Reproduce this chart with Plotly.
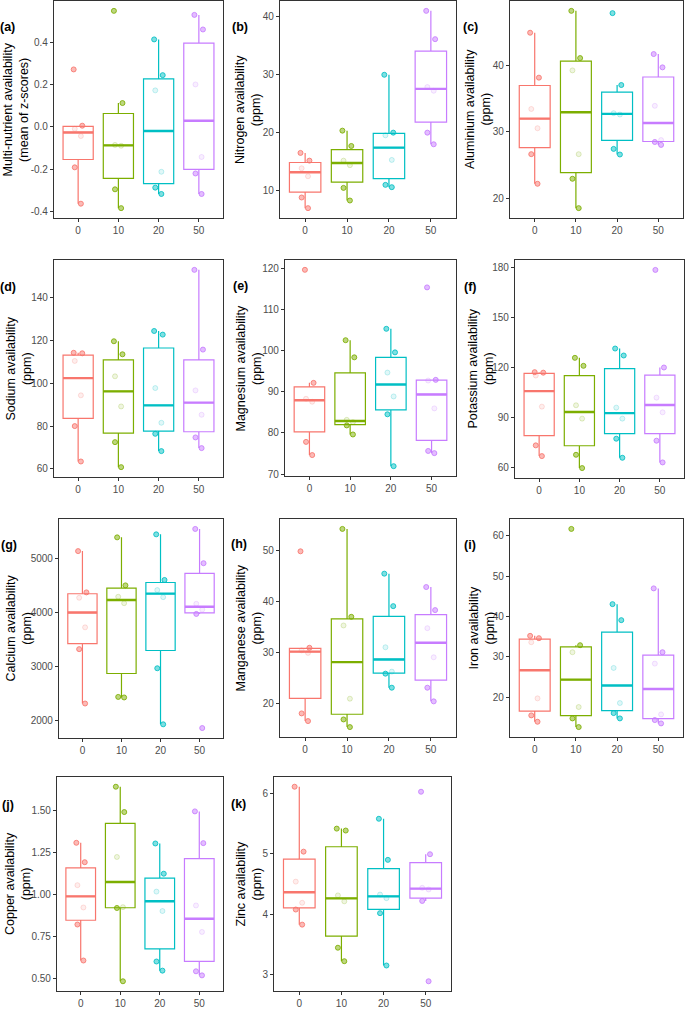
import numpy as np
import plotly.graph_objects as go

# ---------------- data ----------------
doses = ["0", "10", "20", "50"]
colors = ["#F8766D", "#7CAE00", "#00BFC4", "#C77CFF"]

multi_nutrient = [
    [0.271, 0.005, -0.010, -0.044, -0.192, -0.364],
    [0.548, 0.112, -0.086, -0.090, -0.296, -0.385],
    [0.413, 0.244, 0.172, -0.213, -0.288, -0.318],
    [0.529, 0.460, 0.200, -0.143, -0.221, -0.318],
]
nitrogen = [
    [16.44, 15.11, 13.79, 12.41, 8.74, 6.90],
    [20.29, 17.64, 15.10, 14.32, 10.40, 8.22],
    [29.94, 19.94, 19.48, 15.23, 10.92, 10.52],
    [40.98, 36.09, 27.82, 27.18, 19.94, 17.93],
]
aluminium = [
    [44.83, 38.11, 33.43, 30.55, 26.67, 22.24],
    [48.10, 41.04, 39.20, 26.67, 22.99, 18.60],
    [47.76, 37.01, 32.80, 32.60, 27.46, 26.62],
    [41.64, 39.65, 33.90, 28.78, 28.49, 28.06],
]
sodium = [
    [114.3, 114.06, 110.5, 94.4, 80.0, 63.44],
    [119.7, 113.6, 103.3, 89.2, 72.5, 60.8],
    [124.5, 122.8, 97.8, 81.56, 76.4, 68.3],
    [153.1, 115.8, 96.7, 85.3, 74.7, 69.7],
]
magnesium = [
    [119.6, 92.14, 88.28, 87.55, 77.8, 74.6],
    [102.5, 98.34, 83.16, 82.6, 81.8, 79.6],
    [105.27, 99.55, 94.64, 88.84, 84.5, 71.9],
    [115.33, 92.87, 92.7, 85.94, 75.6, 75.07],
]
potassium = [
    [117.0, 116.7, 114.98, 96.3, 73.04, 66.6],
    [125.6, 120.8, 97.12, 89.1, 67.4, 59.4],
    [131.2, 127.0, 95.7, 89.1, 77.05, 65.6],
    [178.4, 119.8, 101.7, 92.9, 75.85, 62.8],
]
calcium = [
    [5143, 4378, 4278, 3730, 3326, 2318],
    [5398, 4508, 4297, 4178, 2440, 2430],
    [5454, 4608, 4421, 4290, 2971, 1932],
    [5554, 4919, 4166, 4060, 3979, 1863],
]
manganese = [
    [49.8, 30.9, 30.4, 29.9, 18.04, 16.54],
    [54.19, 36.97, 35.27, 20.92, 16.86, 15.36],
    [45.42, 39.06, 31.0, 26.23, 25.83, 23.08],
    [42.8, 38.28, 34.74, 29.04, 23.08, 20.4],
]
iron = [
    [35.24, 34.66, 33.66, 19.75, 15.53, 13.95],
    [61.74, 32.92, 31.18, 17.6, 14.78, 12.63],
    [43.1, 39.13, 27.29, 18.59, 16.1, 14.78],
    [47.0, 31.18, 28.36, 15.78, 14.37, 13.54],
]
copper = [
    [1.306, 1.191, 1.055, 0.923, 0.822, 0.609],
    [1.638, 1.488, 1.222, 0.925, 0.920, 0.486],
    [1.302, 1.123, 1.017, 0.902, 0.603, 0.549],
    [1.492, 1.304, 0.935, 0.778, 0.545, 0.521],
]
zinc = [
    [6.11, 5.036, 4.54, 4.19, 4.078, 3.828],
    [5.417, 5.385, 4.312, 4.214, 3.446, 3.223],
    [5.58, 4.9, 4.326, 4.266, 4.018, 3.152],
    [6.027, 4.993, 4.437, 4.41, 4.22, 2.891],
]

tags = ["(a)", "(b)", "(c)", "(d)", "(e)", "(f)", "(g)", "(h)", "(i)", "(j)", "(k)"]
ytitles = [
    "Multi-nutrient availability<br>(mean of z-scores)",
    "Nitrogen availability<br>(ppm)",
    "Aluminium availability<br>(ppm)",
    "Sodium availability<br>(ppm)",
    "Magnesium availability<br>(ppm)",
    "Potassium availability<br>(ppm)",
    "Calcium availability<br>(ppm)",
    "Manganese availability<br>(ppm)",
    "Iron availability<br>(ppm)",
    "Copper availability<br>(ppm)",
    "Zinc availability<br>(ppm)",
]
datasets = [multi_nutrient, nitrogen, aluminium, sodium, magnesium, potassium,
            calcium, manganese, iron, copper, zinc]
ytickvals = [
    [-0.4, -0.2, 0.0, 0.2, 0.4],
    [10, 20, 30, 40],
    [20, 30, 40],
    [60, 80, 100, 120, 140],
    [70, 80, 90, 100, 110, 120],
    [60, 90, 120, 150, 180],
    [2000, 3000, 4000, 5000],
    [20, 30, 40, 50],
    [20, 30, 40, 50, 60],
    [0.5, 0.75, 1.0, 1.25, 1.5],
    [3, 4, 5, 6],
]
yticktext = [
    ["-0.4", "-0.2", "0.0", "0.2", "0.4"],
    ["10", "20", "30", "40"],
    ["20", "30", "40"],
    ["60", "80", "100", "120", "140"],
    ["70", "80", "90", "100", "110", "120"],
    ["60", "90", "120", "150", "180"],
    ["2000", "3000", "4000", "5000"],
    ["20", "30", "40", "50"],
    ["20", "30", "40", "50", "60"],
    ["0.50", "0.75", "1.00", "1.25", "1.50"],
    ["3", "4", "5", "6"],
]

# ---------------- layout geometry (pixels) ----------------
W, H = 685, 1010
panel_rects = [  # left, right, top, bottom
    (54, 223, 1, 218), (280, 456, 1, 218), (510, 683, 1, 218),
    (54, 223, 260, 477), (285, 456, 260, 476), (515, 684, 260, 478),
    (59, 223, 519, 738), (280, 456, 519, 737), (510, 683, 519, 737),
    (57, 223, 777, 991), (274, 451, 777, 991),
]
ytitle_x = [16, 248.5, 478.5, 18, 248.5, 480.5, 18, 248.5, 481.5, 18, 248.5]
tag_pos = [(8, 27), (240, 27), (470, 27), (8, 287), (240, 286), (470, 287),
           (9, 545), (239, 544), (470, 545), (8, 805), (239, 804)]

FONT = "Liberation Sans, Arial, sans-serif"


def rgba(hexc, a):
    h = hexc.lstrip("#")
    return "rgba(%d,%d,%d,%.3f)" % (int(h[0:2], 16), int(h[2:4], 16), int(h[4:6], 16), a)


fig = go.Figure()
layout = dict(
    width=W, height=H, margin=dict(l=0, r=0, t=0, b=0),
    paper_bgcolor="white", plot_bgcolor="white",
    showlegend=False, boxmode="overlay", annotations=[],
)

for k, data in enumerate(datasets):
    n = k + 1
    xa = "x" if n == 1 else "x%d" % n
    ya = "y" if n == 1 else "y%d" % n
    for g, vals in enumerate(data):
        v = np.array(vals, dtype=float)
        q1, med, q3 = np.percentile(v, [25, 50, 75])
        iqr = q3 - q1
        lo = v[v >= q1 - 1.5 * iqr].min()
        hi = v[v <= q3 + 1.5 * iqr].max()
        c = colors[g]
        inside = v[(v >= q1) & (v <= q3)]
        outside = v[(v < q1) | (v > q3)]
        # box
        fig.add_trace(go.Box(
            x=[doses[g]], q1=[q1], median=[med], q3=[q3], lowerfence=[lo], upperfence=[hi],
            width=0.75, whiskerwidth=0, fillcolor="white",
            line=dict(color=c, width=1.2), boxpoints=False,
            xaxis=xa, yaxis=ya, hoverinfo="skip",
        ))
        # thicker median line
        fig.add_trace(go.Box(
            x=[doses[g]], q1=[med], median=[med], q3=[med], lowerfence=[med], upperfence=[med],
            width=0.75, whiskerwidth=0, fillcolor="rgba(0,0,0,0)",
            line=dict(color=c, width=2.4), boxpoints=False,
            xaxis=xa, yaxis=ya, hoverinfo="skip",
        ))
        # jittered sample points (faint where they sit behind the box)
        for subset, fa, la in ((inside, 0.12, 0.22), (outside, 0.5, 0.85)):
            if len(subset) == 0:
                continue
            fig.add_trace(go.Box(
                x=[doses[g]] * len(subset), y=subset, boxpoints="all", jitter=0.35, pointpos=0,
                width=0.75, fillcolor="rgba(0,0,0,0)",
                line=dict(color="rgba(0,0,0,0)", width=0),
                marker=dict(size=5, color=rgba(c, fa), line=dict(color=rgba(c, la), width=1)),
                xaxis=xa, yaxis=ya, hoverinfo="skip",
            ))

    allv = np.concatenate([np.array(d, dtype=float) for d in data])
    pad = 0.05 * (allv.max() - allv.min())
    yr = [allv.min() - pad, allv.max() + pad]

    L, R, T, B = panel_rects[k]
    axis_common = dict(
        showline=True, mirror=True, linecolor="#333333", linewidth=1.1,
        ticks="outside", ticklen=3, tickwidth=1, tickcolor="#333333",
        showgrid=False, zeroline=False, automargin=False,
        tickfont=dict(family=FONT, size=10, color="#4D4D4D"),
    )
    layout["xaxis" if n == 1 else "xaxis%d" % n] = dict(
        axis_common, domain=[L / W, R / W], anchor=ya, type="category",
        categoryorder="array", categoryarray=doses, range=[-0.6, 3.6],
    )
    layout["yaxis" if n == 1 else "yaxis%d" % n] = dict(
        axis_common, domain=[1 - B / H, 1 - T / H], anchor=xa, range=yr,
        tickvals=ytickvals[k], ticktext=yticktext[k],
    )
    layout["annotations"].append(dict(
        text=ytitles[k], xref="paper", yref="paper", x=ytitle_x[k] / W,
        y=1 - ((T + B) / 2) / H, xanchor="center", yanchor="middle", textangle=-90,
        showarrow=False, font=dict(family=FONT, size=12.5, color="black"),
    ))
    tx, ty = tag_pos[k]
    layout["annotations"].append(dict(
        text="<b>%s</b>" % tags[k], xref="paper", yref="paper", x=tx / W, y=1 - ty / H,
        xanchor="center", yanchor="middle", showarrow=False,
        font=dict(family=FONT, size=12.5, color="black"),
    ))

fig.update_layout(**layout)
fig.write_html(
    "out.html",
    config={"displayModeBar": False},
    post_script="document.body.style.margin='0';document.body.style.overflow='hidden';",
)
